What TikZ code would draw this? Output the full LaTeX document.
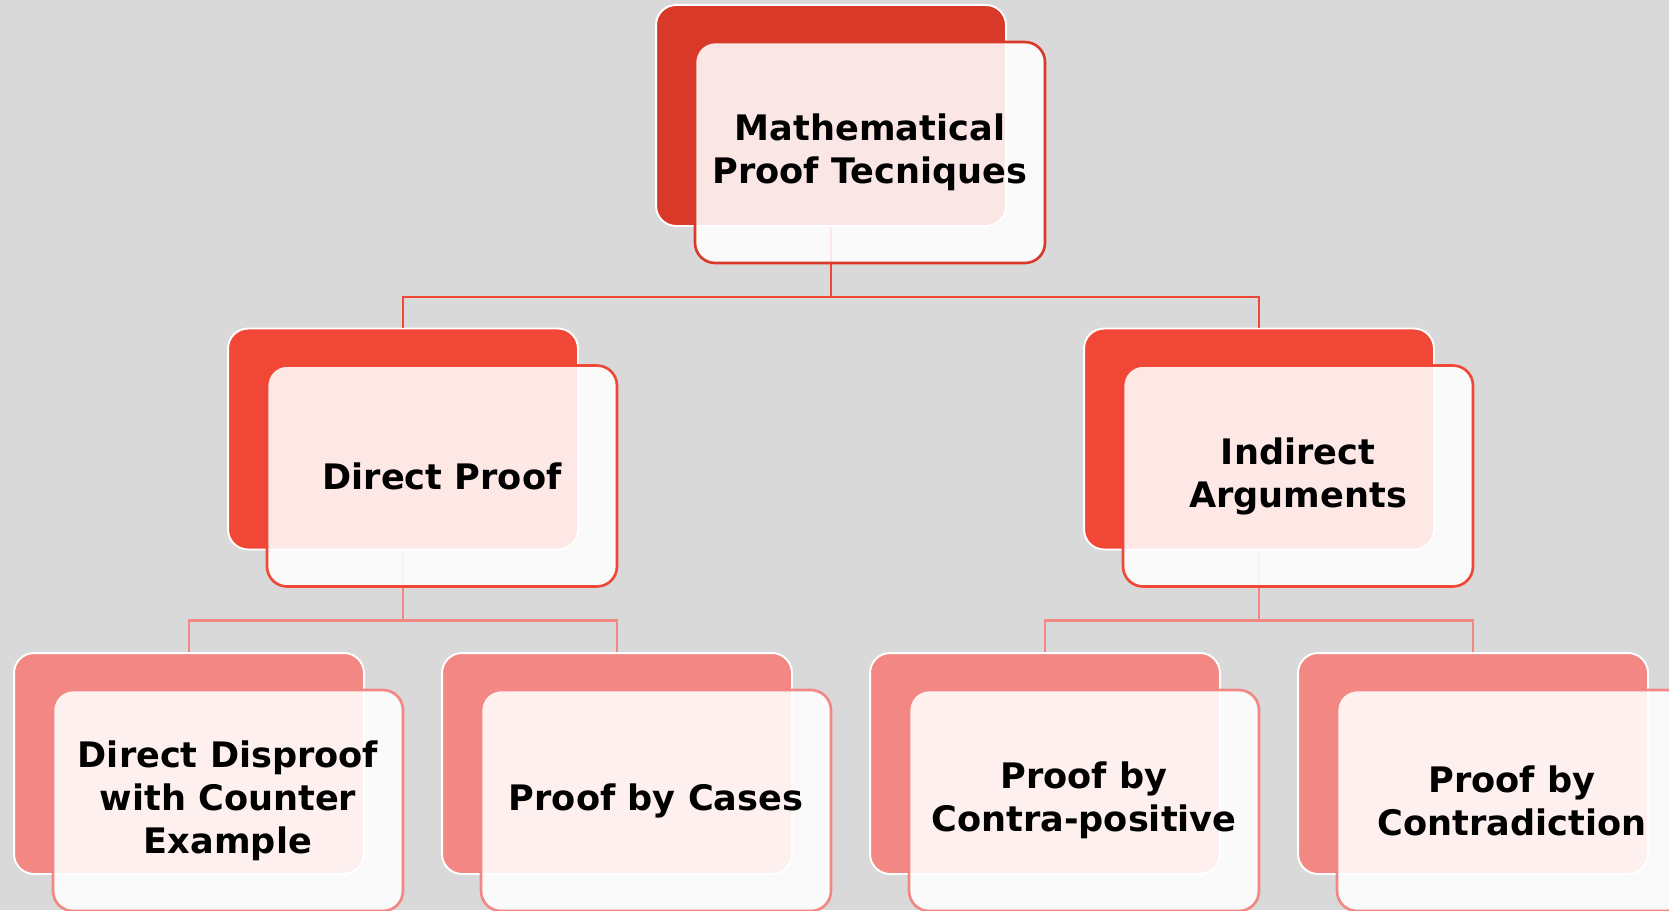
\documentclass[tikz,border=0pt]{standalone}
\usepackage{fontspec}
\setmainfont{DejaVu Sans}
\definecolor{cBG}{RGB}{217,217,217}
\definecolor{cROOT}{RGB}{217,57,40}
\definecolor{cBRANCH}{RGB}{240,71,55}
\definecolor{cLEAF}{RGB}{242,135,131}
\begin{document}
\begin{tikzpicture}[x=0.02cm,y=-0.02cm,
  backbox/.style={fill=#1,draw=white,line width=1.1pt,rounded corners=0.4cm,minimum width=7cm,minimum height=4.42cm,inner sep=0pt},
  frontbox/.style={fill=white,fill opacity=0.88,text opacity=1,draw=#1,line width=1.5pt,rounded corners=0.4cm,minimum width=7cm,minimum height=4.42cm,inner sep=0pt,align=center,font=\fontsize{20}{24.5}\selectfont\bfseries},
  link/.style={draw=#1,line width=1.3pt}]
\clip (0,0) rectangle (1669,910);
\fill[cBG] (0,0) rectangle (1669,910);
\node[backbox=cROOT] (rootB) at (831,115.5) {};
\node[backbox=cBRANCH] (directB) at (403,439) {};
\node[backbox=cBRANCH] (indirectB) at (1259,439) {};
\node[backbox=cLEAF] (counterB) at (189,763.5) {};
\node[backbox=cLEAF] (casesB) at (617,763.5) {};
\node[backbox=cLEAF] (contraposB) at (1045,763.5) {};
\node[backbox=cLEAF] (contradB) at (1473,763.5) {};
\draw[link=cBRANCH] (rootB.south) -- ++(0,70) -| (directB.north);
\draw[link=cBRANCH] (rootB.south) -- ++(0,70) -| (indirectB.north);
\draw[link=cLEAF] (directB.south) -- ++(0,70) -| (counterB.north);
\draw[link=cLEAF] (directB.south) -- ++(0,70) -| (casesB.north);
\draw[link=cLEAF] (indirectB.south) -- ++(0,70) -| (contraposB.north);
\draw[link=cLEAF] (indirectB.south) -- ++(0,70) -| (contradB.north);
\node[frontbox=cROOT] (root) at ([shift={(39,37)}]rootB.center) {Mathematical\\Proof Tecniques};
\node[frontbox=cBRANCH] (direct) at ([shift={(39,37)}]directB.center) {Direct Proof};
\node[frontbox=cBRANCH] (indirect) at ([shift={(39,37)}]indirectB.center) {Indirect\\Arguments};
\node[frontbox=cLEAF] (counter) at ([shift={(39,37)}]counterB.center) {Direct Disproof\\with Counter\\Example};
\node[frontbox=cLEAF] (cases) at ([shift={(39,37)}]casesB.center) {Proof by Cases};
\node[frontbox=cLEAF] (contrapos) at ([shift={(39,37)}]contraposB.center) {Proof by\\Contra-positive};
\node[frontbox=cLEAF] (contrad) at ([shift={(39,37)}]contradB.center) {Proof by\\Contradiction};
\end{tikzpicture}
\end{document}
